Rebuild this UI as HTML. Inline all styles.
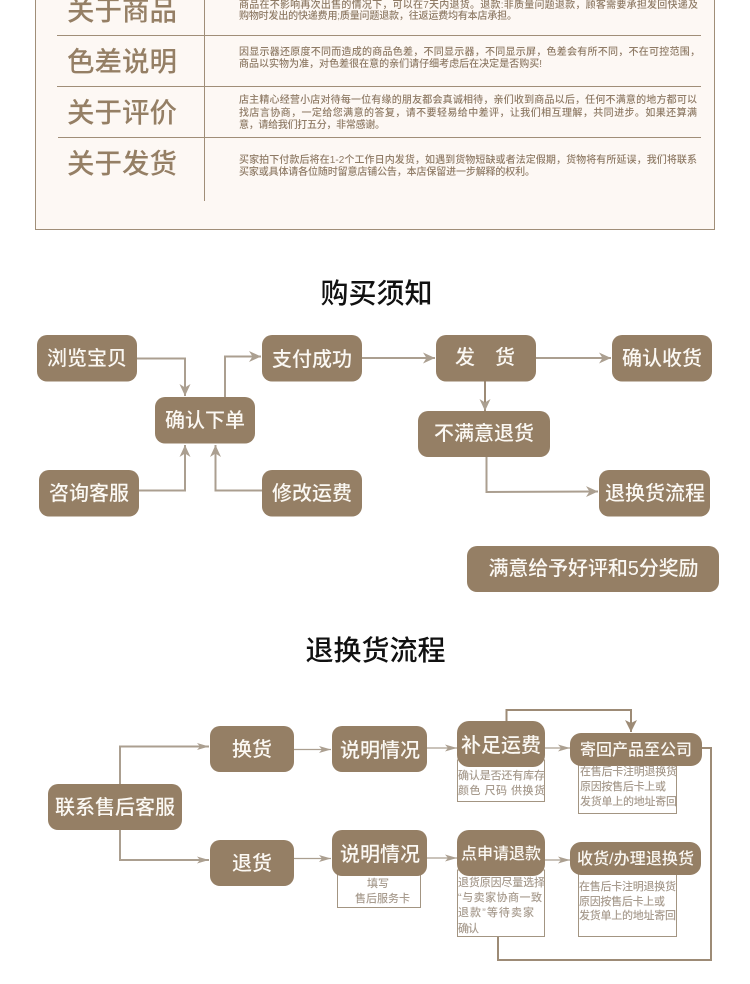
<!DOCTYPE html>
<html lang="zh"><head><meta charset="utf-8"><style>
html,body{margin:0;padding:0;background:#fff}
svg{display:block}
text{font-family:"Liberation Sans","Noto Sans CJK SC",sans-serif}
.b{fill:#957f65}
.t{fill:#fbf8f3;font-size:20px;text-anchor:middle;font-weight:500}
.s{fill:#8f7b66;font-size:10px;font-weight:500}
.h{fill:#957f65;font-size:27.5px;font-weight:500}
.n{fill:#a89c8f;font-size:11px;font-weight:500}
.c{fill:none;stroke:#ab9f90;stroke-width:2}
.d{fill:none;stroke:#ab9f90;stroke-width:1.2}
.l{fill:none;stroke:#9d8b76;stroke-width:2}
.r{fill:#fff;stroke:#a39582;stroke-width:1}
.k{fill:#111;font-size:28px;text-anchor:middle;font-weight:500}
</style></head><body>
<svg width="750" height="984" viewBox="0 0 750 984" xmlns="http://www.w3.org/2000/svg">
<defs>
<marker id="a" markerUnits="userSpaceOnUse" markerWidth="14" markerHeight="14" refX="12" refY="6" orient="auto"><path d="M0,0.5 L12,6 L0,11.5 L3.5,6 Z" fill="#ab9f90"/></marker>
<marker id="e" markerUnits="userSpaceOnUse" markerWidth="14" markerHeight="10" refX="12" refY="4" orient="auto"><path d="M0,0.5 L12,4 L0,7.5 L3,4 Z" fill="#ab9f90"/></marker>
<marker id="f" markerUnits="userSpaceOnUse" markerWidth="14" markerHeight="14" refX="12" refY="6" orient="auto"><path d="M0,0 L12,6 L0,12 L3,6 Z" fill="#9d8b76"/></marker>
</defs>

<rect x="35.5" y="-5" width="679" height="234.5" fill="#fdf8f4" stroke="#a08e78" stroke-width="1"/>
<path d="M204.5 0V201M57 35.5H701M57 86.5H701M58 137.5H701" fill="none" stroke="#a08e78" stroke-width="1"/>
<text class="h" x="67" y="20" textLength="110">关于商品</text>
<text class="h" x="67" y="71" textLength="110">色差说明</text>
<text class="h" x="67" y="122" textLength="110">关于评价</text>
<text class="h" x="67" y="173" textLength="110">关于发货</text>
<text class="s" x="239" y="8" textLength="459">商品在不影响再次出售的情况下，可以在7天内退货。退款:非质量问题退款，顾客需要承担发回快递及</text>
<text class="s" x="239" y="19" textLength="278">购物时发出的快递费用;质量问题退款，往返运费均有本店承担。</text>
<text class="s" x="239" y="55" textLength="461">因显示器还原度不同而造成的商品色差，不同显示器，不同显示屏，色差会有所不同，不在可控范围，</text>
<text class="s" x="239" y="67" textLength="303">商品以实物为准，对色差很在意的亲们请仔细考虑后在决定是否购买!</text>
<text class="s" x="239" y="103" textLength="458">店主精心经营小店对待每一位有缘的朋友都会真诚相待，亲们收到商品以后，任何不满意的地方都可以</text>
<text class="s" x="239" y="116" textLength="458">找店言协商，一定给您满意的答复，请不要轻易给中差评，让我们相互理解，共同进步。如果还算满</text>
<text class="s" x="239" y="128" textLength="146">意，请给我们打五分，非常感谢。</text>
<text class="s" x="239" y="163" textLength="458">买家拍下付款后将在1-2个工作日内发货，如遇到货物短缺或者法定假期，货物将有所延误，我们将联系</text>
<text class="s" x="239" y="175" textLength="296">买家或具体请各位随时留意店铺公告，本店保留进一步解释的权利。</text>

<text class="k" x="376.5" y="303">购买须知</text>
<path class="c" d="M137 358.5H185V396" marker-end="url(#a)"/>
<path class="c" d="M225 397V356.5H261" marker-end="url(#a)"/>
<path class="c" d="M139 490.5H185V445" marker-end="url(#a)"/>
<path class="c" d="M262 490.5H215.5V445" marker-end="url(#a)"/>
<path class="c" d="M362 358H435" marker-end="url(#a)"/>
<path class="c" d="M536 358H611" marker-end="url(#a)"/>
<path class="c" d="M485 381V411" style="stroke:#9d8b76" marker-end="url(#a)"/>
<path class="c" d="M486.5 457V492L598 491.5" marker-end="url(#a)"/>
<rect class="b" x="37" y="335" width="100" height="46.5" rx="10"/><text class="t" x="87" y="365">浏览宝贝</text>
<rect class="b" x="155" y="397" width="100" height="46.5" rx="10"/><text class="t" x="205" y="427">确认下单</text>
<rect class="b" x="262" y="335" width="100" height="46.5" rx="10"/><text class="t" x="312" y="366">支付成功</text>
<rect class="b" x="39" y="470" width="100" height="46.5" rx="10"/><text class="t" x="89" y="500">咨询客服</text>
<rect class="b" x="262" y="470" width="100" height="46.5" rx="10"/><text class="t" x="312" y="500">修改运费</text>
<rect class="b" x="436" y="335" width="100" height="46.5" rx="10"/><text class="t" x="485" y="364">发　货</text>
<rect class="b" x="612" y="335" width="100" height="46.5" rx="10"/><text class="t" x="662" y="365">确认收货</text>
<rect class="b" x="418" y="411" width="132" height="46" rx="10"/><text class="t" x="484" y="440">不满意退货</text>
<rect class="b" x="599" y="470" width="111" height="46.5" rx="10"/><text class="t" x="655" y="500">退换货流程</text>
<rect class="b" x="467" y="546" width="252" height="46" rx="10"/><text class="t" x="593.5" y="575" textLength="210">满意给予好评和5分奖励</text>

<text class="k" x="375.5" y="660">退换货流程</text>
<path class="d" style="stroke-width:2" d="M120 784V746.5H209" marker-end="url(#e)"/>
<path class="d" style="stroke-width:2" d="M120 830V860H209" marker-end="url(#e)"/>
<path class="d" d="M294 749.5H331" marker-end="url(#e)"/>
<path class="d" d="M294 858.5H331" marker-end="url(#e)"/>
<path class="d" d="M427 748H457" marker-end="url(#e)"/>
<path class="d" d="M427 858H457" marker-end="url(#e)"/>
<path class="d" d="M545 748H570" marker-end="url(#e)"/>
<path class="d" d="M545 860H570" marker-end="url(#e)"/>
<path class="l" d="M506.5 721V710H631V732" marker-end="url(#f)"/>
<path class="l" d="M702 748H711V960H498V936"/>

<rect class="r" x="337.5" y="870" width="83" height="37.5"/>
<rect class="r" x="457.5" y="760" width="87" height="41.5"/>
<rect class="r" x="578.5" y="760" width="98" height="53.5"/>
<rect class="r" x="457.5" y="870" width="87" height="66.5"/>
<rect class="r" x="578.5" y="870" width="98" height="66.5"/>

<rect class="b" x="48" y="784" width="134" height="46" rx="10"/><text class="t" x="115" y="814">联系售后客服</text>
<rect class="b" x="210" y="726" width="84" height="46" rx="10"/><text class="t" x="252" y="756">换货</text>
<rect class="b" x="332" y="726" width="95" height="46" rx="10"/><text class="t" x="380" y="757">说明情况</text>
<rect class="b" x="210" y="840" width="84" height="46" rx="10"/><text class="t" x="252" y="870">退货</text>
<rect class="b" x="332" y="830" width="95" height="46" rx="10"/><text class="t" x="380" y="861">说明情况</text>
<rect class="b" x="457" y="721" width="88" height="46" rx="12"/><text class="t" x="501" y="752">补足运费</text>
<rect class="b" x="570" y="733" width="132" height="33" rx="11"/><text class="t" x="636" y="755" style="font-size:16px">寄回产品至公司</text>
<rect class="b" x="457" y="830" width="88" height="46" rx="12"/><text class="t" x="501" y="859" style="font-size:16px">点申请退款</text>
<rect class="b" x="570" y="842" width="131" height="33" rx="11"/><text class="t" x="635.5" y="864" style="font-size:16px" textLength="117">收货/办理退换货</text>

<text class="n" x="367" y="887">填写</text>
<text class="n" x="355" y="902">售后服务卡</text>
<text class="n" x="458" y="779" textLength="87">确认是否还有库存</text>
<text class="n" x="458" y="794" textLength="87">颜色 尺码 供换货</text>
<text class="n" x="580" y="775" textLength="97">在售后卡注明退换货</text>
<text class="n" x="580" y="790" textLength="86">原因按售后卡上或</text>
<text class="n" x="580" y="805" textLength="97">发货单上的地址寄回</text>
<text class="n" x="458" y="886" textLength="87">退货原因尽量选择</text>
<text class="n" x="458" y="901" textLength="84">“与卖家协商一致</text>
<text class="n" x="458" y="916" textLength="76">退款”等待卖家</text>
<text class="n" x="458" y="932" textLength="21">确认</text>
<text class="n" x="579" y="890" textLength="97">在售后卡注明退换货</text>
<text class="n" x="579" y="905" textLength="86">原因按售后卡上或</text>
<text class="n" x="579" y="919" textLength="97">发货单上的地址寄回</text>
</svg>
</body></html>
